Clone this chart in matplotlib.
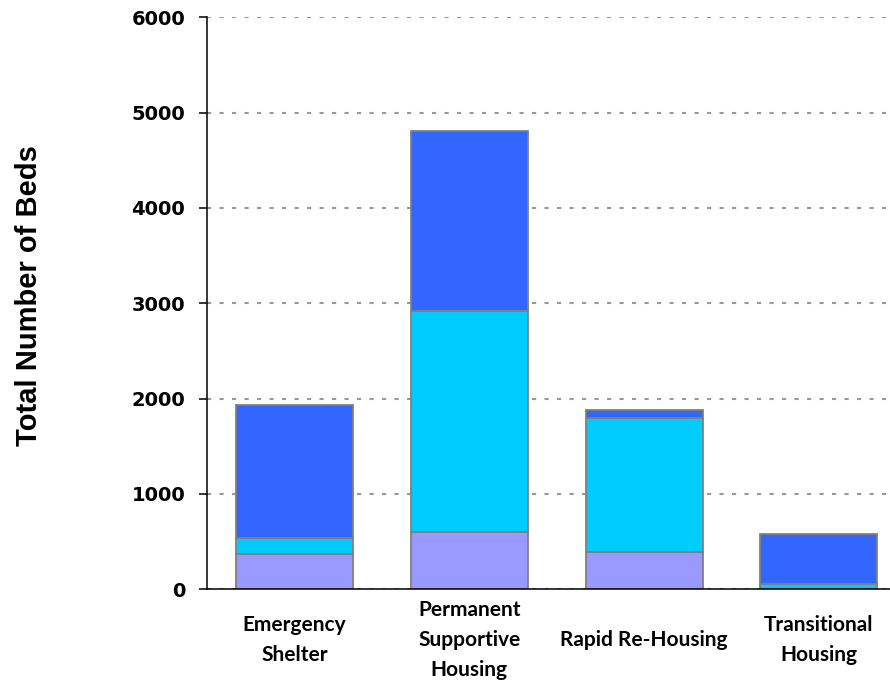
import matplotlib
matplotlib.use("Agg")
import matplotlib.pyplot as plt
import numpy as np

# bed counts (bottom -> top segment)
project_types = ["Emergency\nShelter", "Permanent\nSupportive\nHousing",
                 "Rapid Re-Housing", "Transitional\nHousing"]
beds_bottom = [372, 600, 390, 0]
beds_middle = [166, 2315, 1405, 55]
beds_top = [1390, 1890, 90, 525]
y_ticks = [0, 1000, 2000, 3000, 4000, 5000, 6000]

colors = ["#9999FF", "#00CCFF", "#3366FF"]

fig = plt.figure(figsize=(8.9, 6.8), dpi=100)
ax = fig.add_axes([207.3 / 890, 1 - 589.3 / 680, 1 - 207.3 / 890, (589.3 - 17.3) / 680])

x = np.arange(len(project_types))
bottom = np.zeros(len(project_types))
for vals, col in zip([beds_bottom, beds_middle, beds_top], colors):
    ax.bar(x, vals, width=0.67, bottom=bottom, color=col,
           edgecolor="#808080", linewidth=1.3, zorder=2)
    bottom += np.array(vals)

ax.set_xlim(-0.5, 3.408)
ax.set_ylim(0, 6000)
ax.set_yticks(y_ticks)
ax.set_yticklabels([str(t) for t in y_ticks], fontfamily="DejaVu Sans",
                   fontweight="bold", fontsize=14)

ax.set_xticks(x)
ax.set_xticklabels(project_types, fontfamily="Lato", fontweight="bold",
                   fontsize=15, linespacing=1.62)
for lab in ax.get_xticklabels():
    lab.set_va("center")
ax.tick_params(axis="x", length=0, pad=36.5)
ax.tick_params(axis="y", length=5.5, width=1.1, direction="out", pad=10.5)

ax.yaxis.grid(True, color="#999999", linewidth=1.5, linestyle=(0, (2, 4)))
ax.set_axisbelow(True)
for sp in ["top", "right"]:
    ax.spines[sp].set_visible(False)
for sp in ["left", "bottom"]:
    ax.spines[sp].set_linewidth(1.1)
    ax.spines[sp].set_color("black")

fig.text(29 / 890, 1 - 296 / 680, "Total Number of Beds", rotation=90,
         ha="center", va="center", fontfamily="Liberation Sans",
         fontweight="bold", fontsize=21)

fig.savefig("out.png", dpi=100)
